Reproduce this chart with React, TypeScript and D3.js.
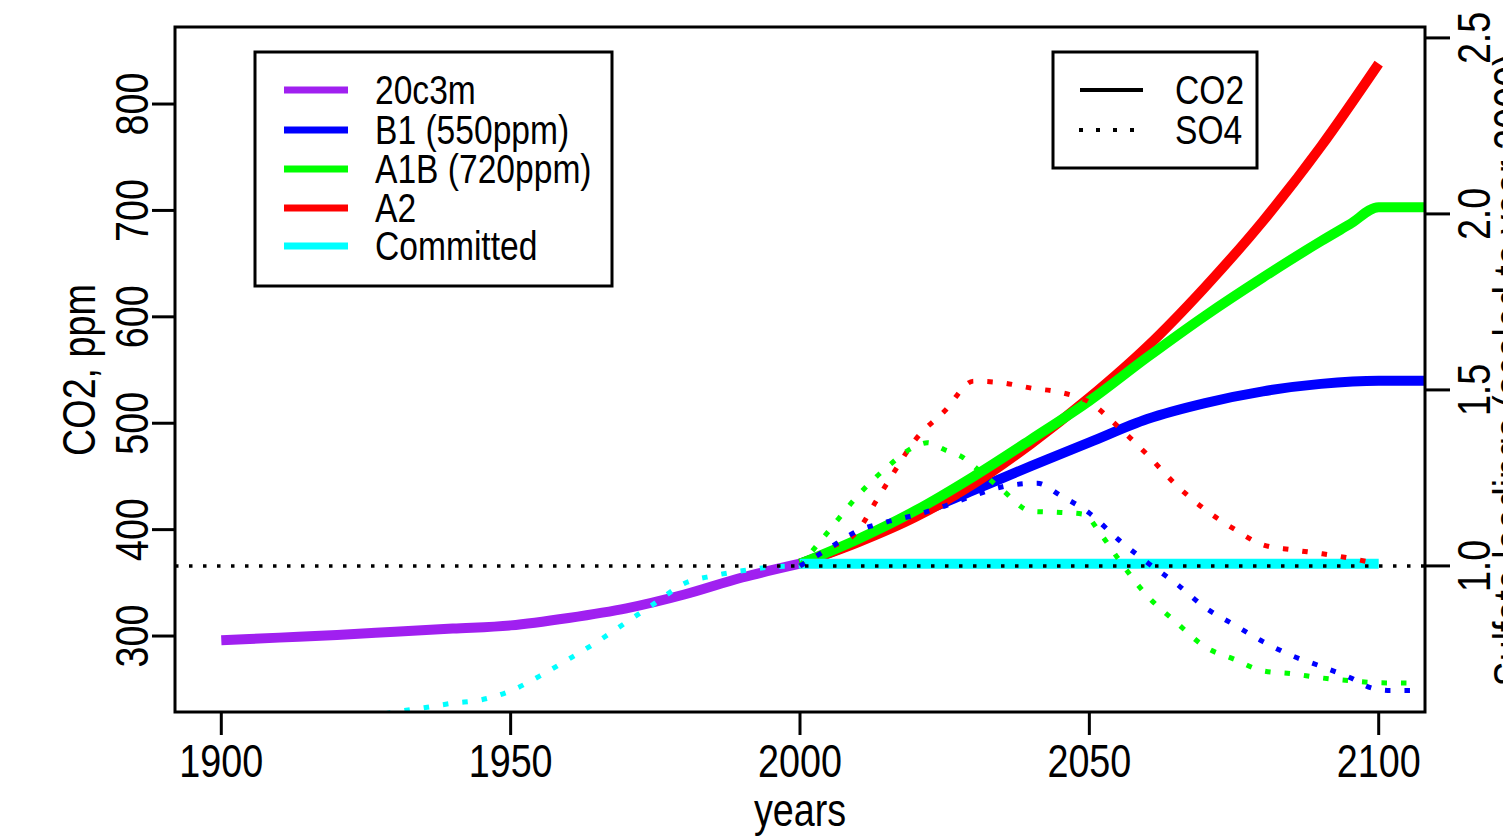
import React from "react";
import * as d3 from "d3";

// ---------- data ----------
const histYears = [1900, 1910, 1920, 1930, 1940, 1950, 1960, 1970, 1980, 1990, 2000];
const co2_20c3m = [296, 298.5, 301, 304, 307, 310, 317, 326, 339, 355, 368];

const futYears = [2000, 2010, 2020, 2030, 2040, 2050, 2060, 2070, 2080, 2090, 2100, 2108];
const co2_B1 = [368, 389, 414, 437, 460, 482, 504, 519, 530, 537, 540, 540];
const a1bYears = [2000, 2010, 2020, 2030, 2040, 2050, 2060, 2070, 2080, 2090, 2095, 2100, 2108];
const co2_A1B = [368, 391, 418, 450, 485, 521, 562, 601, 637, 671, 687, 703, 703];
const a2Years = [2000, 2010, 2020, 2030, 2040, 2050, 2060, 2070, 2080, 2090, 2100];
const co2_A2 = [368, 388, 412, 443, 481, 524, 572, 628, 690, 760, 838];
const commitYears = [2000, 2100];
const co2_Committed = [368, 368];

// SO4 (scaled to year 2000)
const so4HistYears = [1925, 1930, 1935, 1940, 1945, 1950, 1955, 1960, 1965, 1970, 1975, 1980, 1985, 1990, 1995, 2000];
const so4_hist = [0.57, 0.585, 0.597, 0.61, 0.62, 0.645, 0.687, 0.735, 0.785, 0.84, 0.895, 0.95, 0.972, 0.986, 0.997, 1.0];

const so4A2Years = [2000, 2005, 2010, 2013, 2016, 2020, 2025, 2030, 2035, 2040, 2045, 2050, 2055, 2060, 2065, 2070, 2075, 2080, 2085, 2090, 2095, 2100];
const so4_A2 = [1.0, 1.05, 1.1, 1.18, 1.26, 1.36, 1.44, 1.525, 1.52, 1.505, 1.493, 1.465, 1.395, 1.316, 1.23, 1.16, 1.105, 1.06, 1.046, 1.035, 1.022, 1.005];

const so4A1BYears = [2000, 2005, 2010, 2015, 2020, 2022, 2025, 2028, 2031, 2035, 2040, 2045, 2049, 2052, 2055, 2060, 2065, 2070, 2075, 2080, 2085, 2090, 2095, 2100, 2106];
const so4_A1B = [1.0, 1.1, 1.2, 1.28, 1.34, 1.35, 1.33, 1.31, 1.27, 1.215, 1.155, 1.152, 1.147, 1.09, 1.02, 0.915, 0.84, 0.77, 0.735, 0.702, 0.694, 0.682, 0.674, 0.668, 0.667];

const so4B1Years = [2000, 2005, 2010, 2015, 2020, 2025, 2030, 2035, 2041, 2045, 2050, 2055, 2060, 2065, 2070, 2075, 2080, 2085, 2090, 2095, 2099, 2102, 2106];
const so4_B1 = [1.0, 1.05, 1.1, 1.125, 1.145, 1.17, 1.2, 1.225, 1.235, 1.2, 1.15, 1.075, 1.01, 0.95, 0.882, 0.833, 0.785, 0.745, 0.715, 0.683, 0.652, 0.646, 0.646];

const refYears = [1892, 2108];
const so4_ref = [1.0, 1.0];

const xTicks = [1900, 1950, 2000, 2050, 2100];
const yTicks = [300, 400, 500, 600, 700, 800];
const y2Ticks = [1.0, 1.5, 2.0, 2.5];

const legendNames = ["20c3m", "B1 (550ppm)", "A1B (720ppm)", "A2", "Committed"];
const legendColors = ["#a020f0", "#0000ff", "#00ff00", "#ff0000", "#00ffff"];
const typeNames = ["CO2", "SO4"];

// ---------- layout ----------
const W = 1503;
const H = 838;
const L = 175, R = 1425, T = 27, B = 712;
const FONT = "'Liberation Sans', Arial, sans-serif";

const x = d3.scaleLinear().domain([1892, 2108]).range([L, R]);
const y = d3.scaleLinear().domain([228.6, 872.4]).range([B, T]);
const y2 = d3.scaleLinear().domain([0.585, 2.531]).range([B, T]);

function pts(xs: number[], vs: number[]): [number, number][] {
  return xs.map((d, i) => [d, vs[i]]);
}

const lineCO2 = d3
  .line<[number, number]>()
  .x((d) => x(d[0]))
  .y((d) => y(d[1]))
  .curve(d3.curveMonotoneX);
const lineSO4 = d3
  .line<[number, number]>()
  .x((d) => x(d[0]))
  .y((d) => y2(d[1]))
  .curve(d3.curveMonotoneX);

function T_(props: {
  x: number;
  y: number;
  size: number;
  sx?: number;
  anchor?: string;
  rot?: boolean;
  children: React.ReactNode;
}) {
  const sx = props.sx ?? 0.82;
  const tr = props.rot
    ? `translate(${props.x},${props.y}) rotate(-90) scale(${sx},1)`
    : `translate(${props.x},${props.y}) scale(${sx},1)`;
  return (
    <text
      transform={tr}
      fontFamily={FONT}
      fontSize={props.size}
      textAnchor={props.anchor || "start"}
      fill="#000"
    >
      {props.children}
    </text>
  );
}

export default function App() {
  const co2Series = [
    { d: pts(histYears, co2_20c3m), c: legendColors[0] },
    { d: pts(futYears, co2_B1), c: legendColors[1] },
    { d: pts(a2Years, co2_A2), c: legendColors[3] },
    { d: pts(a1bYears, co2_A1B), c: legendColors[2] },
    { d: pts(commitYears, co2_Committed), c: legendColors[4] },
  ];
  const so4Series = [
    { d: pts(so4HistYears, so4_hist), c: legendColors[4] },
    { d: pts(so4A2Years, so4_A2), c: legendColors[3] },
    { d: pts(so4A1BYears, so4_A1B), c: legendColors[2] },
    { d: pts(so4B1Years, so4_B1), c: legendColors[1] },
  ];
  const legRowY = [90, 130, 169, 208, 246];

  return (
    <svg width={W} height={H} style={{ position: "absolute", left: 0, top: 0, background: "#fff" }}>
      <defs>
        <clipPath id="plot">
          <rect x={L} y={T} width={R - L} height={B - T} />
        </clipPath>
      </defs>
      <rect x={0} y={0} width={W} height={H} fill="#fff" />
      <g clipPath="url(#plot)">
        {co2Series.map((s, i) => (
          <path key={"c" + i} d={lineCO2(s.d) || ""} fill="none" stroke={s.c} strokeWidth={10} strokeLinejoin="round" />
        ))}
        {so4Series.map((s, i) => (
          <path
            key={"s" + i}
            d={lineSO4(s.d) || ""}
            fill="none"
            stroke={s.c}
            strokeWidth={5}
            strokeDasharray="5.5 14"
          />
        ))}
        <path
          d={lineSO4(pts(refYears, so4_ref)) || ""}
          fill="none"
          stroke="#000"
          strokeWidth={3.5}
          strokeDasharray="3.5 10.5"
        />
      </g>
      {/* plot box */}
      <rect x={L} y={T} width={R - L} height={B - T} fill="none" stroke="#000" strokeWidth={3} />

      {/* bottom axis */}
      {xTicks.map((t) => (
        <g key={"x" + t}>
          <line x1={x(t)} x2={x(t)} y1={B} y2={B + 23} stroke="#000" strokeWidth={3} />
          <T_ x={x(t)} y={777} size={46} anchor="middle">
            {t}
          </T_>
        </g>
      ))}
      <T_ x={800} y={826} size={46} anchor="middle">
        years
      </T_>

      {/* left axis */}
      {yTicks.map((t) => (
        <g key={"y" + t}>
          <line x1={L} x2={L - 23} y1={y(t)} y2={y(t)} stroke="#000" strokeWidth={3} />
          <T_ x={148} y={y(t)} size={46} anchor="middle" rot>
            {t}
          </T_>
        </g>
      ))}
      <T_ x={95} y={370} size={46} anchor="middle" rot>
        CO2, ppm
      </T_>

      {/* right axis */}
      {y2Ticks.map((t) => (
        <g key={"r" + t}>
          <line x1={R} x2={R + 25} y1={y2(t)} y2={y2(t)} stroke="#000" strokeWidth={3} />
          <T_ x={1490} y={y2(t)} size={46} anchor="middle" rot>
            {t.toFixed(1)}
          </T_>
        </g>
      ))}
      <T_ x={1526} y={370} size={46} anchor="middle" rot>
        Sulfate loadings (scaled to year 2000)
      </T_>

      {/* legend 1 */}
      <rect x={255} y={52} width={357} height={234} fill="#fff" stroke="#000" strokeWidth={3} />
      {legendNames.map((n, i) => (
        <g key={"l" + i}>
          <line x1={284} x2={348} y1={legRowY[i]} y2={legRowY[i]} stroke={legendColors[i]} strokeWidth={7} />
          <T_ x={375} y={legRowY[i] + 14} size={40} sx={0.84}>
            {n}
          </T_>
        </g>
      ))}

      {/* legend 2 */}
      <rect x={1053} y={52} width={204} height={116} fill="#fff" stroke="#000" strokeWidth={3} />
      <line x1={1080} x2={1143} y1={90} y2={90} stroke="#000" strokeWidth={4} />
      <line x1={1079} x2={1145} y1={130} y2={130} stroke="#000" strokeWidth={4} strokeDasharray="4 13" />
      {typeNames.map((n, i) => (
        <T_ key={"t" + i} x={1175} y={104 + i * 40} size={40} sx={0.84}>
          {n}
        </T_>
      ))}
    </svg>
  );
}
